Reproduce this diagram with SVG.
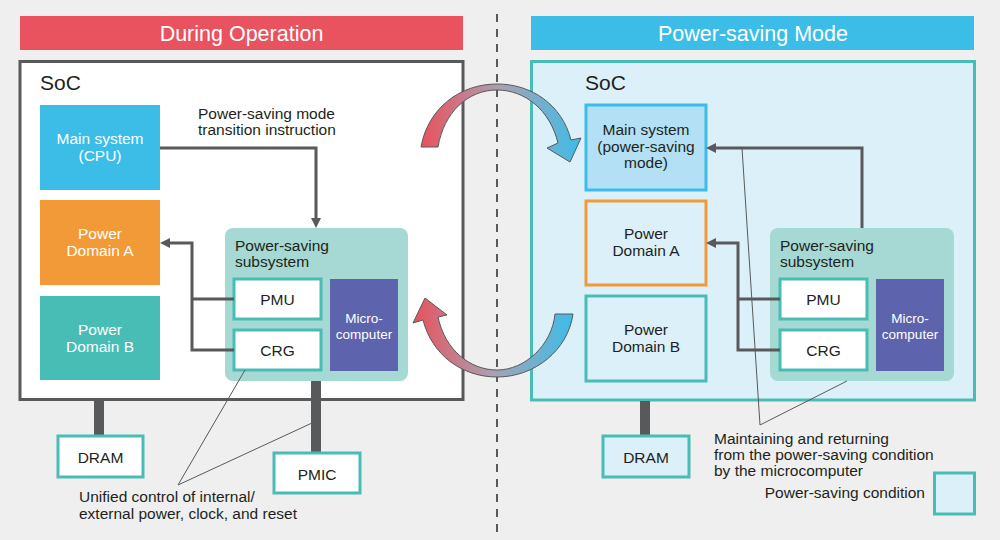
<svg xmlns="http://www.w3.org/2000/svg" width="1000" height="540" viewBox="0 0 1000 540">
<style>
.t{font-family:"Liberation Sans",Arial,sans-serif;font-size:15.5px;fill:#231f20}
.w{fill:#ffffff}
.c{text-anchor:middle}
.h{font-family:"Liberation Sans",Arial,sans-serif;font-size:21.5px;fill:#ffffff;text-anchor:middle}
.soc{font-family:"Liberation Sans",Arial,sans-serif;font-size:21px;fill:#231f20}
.mc{font-family:"Liberation Sans",Arial,sans-serif;font-size:13.5px;fill:#ffffff;text-anchor:middle}
.box{fill:#ffffff;stroke:#48bdb5;stroke-width:3}
.lbox{fill:#dcf0f9;stroke:#48bdb5;stroke-width:3}
.conn{fill:none;stroke:#58595b;stroke-width:3}
.thin{fill:none;stroke:#58595b;stroke-width:1}
.bar{fill:#58595b}
</style>
<defs>
<marker id="ah" viewBox="0 0 10 10" refX="2" refY="5" markerWidth="10" markerHeight="10" markerUnits="userSpaceOnUse" orient="auto">
<path d="M0,0 L10,5 L0,10 z" fill="#58595b"/>
</marker>
<linearGradient id="g1" x1="0" y1="0" x2="1" y2="0">
<stop offset="0" stop-color="#e9515c"/>
<stop offset="0.5" stop-color="#a9a1b3"/>
<stop offset="1" stop-color="#3dbde8"/>
</linearGradient>
</defs>
<rect x="0" y="0" width="1000" height="540" fill="#efefef"/>
<line x1="497" y1="14" x2="497" y2="532" stroke="#58595b" stroke-width="2" stroke-dasharray="8,7"/>

<!-- Left side -->
<g id="header-left">
<rect x="20" y="16" width="443" height="34" fill="#e9525f"/>
<text class="h" x="241.5" y="41">During Operation</text>
</g>
<g id="soc-left">
<rect x="20" y="61.5" width="443" height="338" fill="#ffffff" stroke="#58595b" stroke-width="3"/>
<text class="soc" x="40" y="90">SoC</text>
</g>
<g id="main-left">
<rect x="40" y="105" width="120" height="85" fill="#3bbde8"/>
<text class="t w c" x="100" y="144">Main system</text>
<text class="t w c" x="100" y="161">(CPU)</text>
</g>
<g id="pda-left">
<rect x="40" y="200" width="120" height="85" fill="#f39a38"/>
<text class="t w c" x="100" y="239">Power</text>
<text class="t w c" x="100" y="256">Domain A</text>
</g>
<g id="pdb-left">
<rect x="40" y="296" width="120" height="84" fill="#48bdb5"/>
<text class="t w c" x="100" y="335">Power</text>
<text class="t w c" x="100" y="352">Domain B</text>
</g>
<g id="subsys-left">
<rect x="225" y="228" width="183" height="153" rx="8" fill="#a6d9d3"/>
<text class="t" x="235" y="251">Power-saving</text>
<text class="t" x="235" y="267">subsystem</text>
</g>
<g id="pmu-left">
<rect class="box" x="234" y="279" width="87" height="40"/>
<text class="t c" x="277.5" y="305">PMU</text>
</g>
<g id="crg-left">
<rect class="box" x="234" y="330" width="87" height="40"/>
<text class="t c" x="277.5" y="356">CRG</text>
</g>
<g id="micro-left">
<rect x="330" y="279" width="68" height="92" fill="#5d63ad"/>
<text class="mc" x="364" y="323">Micro-</text>
<text class="mc" x="364" y="339">computer</text>
</g>
<g id="dram-left">
<rect class="bar" x="94" y="400" width="10" height="35"/>
<rect class="box" x="58" y="436" width="85" height="41"/>
<text class="t c" x="100.5" y="463">DRAM</text>
</g>
<g id="pmic-left">
<rect class="bar" x="311" y="381" width="10" height="72"/>
<rect class="box" x="274" y="453" width="86" height="40"/>
<text class="t c" x="317" y="480">PMIC</text>
</g>
<g id="labels-left">
<text class="t" x="198" y="118.5">Power-saving mode</text>
<text class="t" x="198" y="135">transition instruction</text>
<text class="t" x="79" y="502">Unified control of internal/</text>
<text class="t" x="79" y="519">external power, clock, and reset</text>
</g>

<!-- Right side -->
<g id="header-right">
<rect x="531" y="16" width="443" height="34" fill="#3bbde8"/>
<text class="h" x="753" y="41">Power-saving Mode</text>
</g>
<g id="soc-right">
<rect x="531.5" y="61.5" width="443" height="338.5" fill="#dcf0f9" stroke="#48bdb5" stroke-width="3"/>
<text class="soc" x="585" y="90">SoC</text>
</g>
<g id="main-right">
<rect x="586" y="105" width="120" height="85" fill="#b3e0f5" stroke="#3bbde8" stroke-width="3"/>
<text class="t c" x="646" y="135">Main system</text>
<text class="t c" x="646" y="152">(power-saving</text>
<text class="t c" x="646" y="168">mode)</text>
</g>
<g id="pda-right">
<rect x="586" y="201" width="120" height="84" fill="#dcf0f9" stroke="#f39a38" stroke-width="3"/>
<text class="t c" x="646" y="239">Power</text>
<text class="t c" x="646" y="256">Domain A</text>
</g>
<g id="pdb-right">
<rect class="lbox" x="586" y="296" width="120" height="85"/>
<text class="t c" x="646" y="335">Power</text>
<text class="t c" x="646" y="352">Domain B</text>
</g>
<g id="subsys-right">
<rect x="770" y="228" width="184" height="153" rx="8" fill="#a6d9d3"/>
<text class="t" x="780" y="251">Power-saving</text>
<text class="t" x="780" y="267">subsystem</text>
</g>
<g id="pmu-right">
<rect class="box" x="780" y="279" width="87" height="40"/>
<text class="t c" x="823.5" y="305">PMU</text>
</g>
<g id="crg-right">
<rect class="box" x="780" y="330" width="87" height="40"/>
<text class="t c" x="823.5" y="356">CRG</text>
</g>
<g id="micro-right">
<rect x="876" y="279" width="68" height="92" fill="#5d63ad"/>
<text class="mc" x="910" y="323">Micro-</text>
<text class="mc" x="910" y="339">computer</text>
</g>
<g id="dram-right">
<rect class="bar" x="640" y="401" width="10" height="34"/>
<rect class="lbox" x="603" y="436" width="86" height="41"/>
<text class="t c" x="646" y="463">DRAM</text>
</g>
<g id="labels-right">
<text class="t" x="714" y="443.5">Maintaining and returning</text>
<text class="t" x="714" y="460">from the power-saving condition</text>
<text class="t" x="714" y="476">by the microcomputer</text>
</g>
<g id="legend">
<rect class="lbox" x="934.5" y="473" width="40" height="41"/>
<text class="t" x="925" y="498" text-anchor="end">Power-saving condition</text>
</g>

<!-- Connectors -->
<g id="connectors">
<path class="conn" d="M160,148 H316 V220" marker-end="url(#ah)"/>
<path class="conn" d="M234,299 H192"/>
<path class="conn" d="M234,350 H192 V243 H168" marker-end="url(#ah)"/>
<path class="conn" d="M862,228 V148 H714" marker-end="url(#ah)"/>
<path class="conn" d="M780,299 H738"/>
<path class="conn" d="M780,350 H738 V243 H714" marker-end="url(#ah)"/>
<path class="thin" d="M245,370 L178,485 L312,423"/>
<path class="thin" d="M742,148 L760,425 L847,381"/>
</g>

<!-- Transition arrows -->
<g id="transition-arrows">
<path d="M421,147 L438,147 C444,112 468,90 497,90 C525,90 550,110 558,143 L547,148 L570,162 L581,138 L571,140 C562,105 532,84 497,84 C460,84 428,108 421,147 Z" fill="url(#g1)" stroke="#58595b" stroke-width="1"/>
<path d="M573,314 L555,314 C552,345 525,370 497,370 C470,370 445,350 438,317 L447,315 L425,298 L413,323 L423,320 C432,355 462,377 497,377 C535,377 568,350 573,314 Z" fill="url(#g1)" stroke="#58595b" stroke-width="1"/>
</g>
</svg>
